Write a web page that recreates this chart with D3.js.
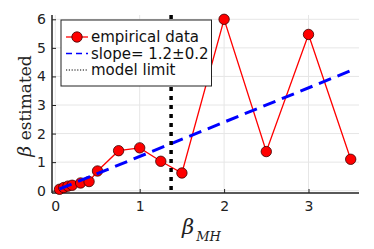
<!DOCTYPE html>
<html lang="en">
<head>
  <meta charset="UTF-8">
  <script src="https://d3js.org/d3.v7.min.js"></script>
  <style>
    body { margin: 0; padding: 0; background: #fff; }
    svg { display: block; font-family: "DejaVu Sans", sans-serif; }
  </style>
</head>
<body>
  <svg id="chart"></svg>
  <script>
    const betaMH = [0.05, 0.1, 0.15, 0.2, 0.3, 0.4, 0.5, 0.75, 1.0, 1.25, 1.5, 2.0, 2.5, 3.0, 3.5];
    const betaEst = [0.05, 0.11, 0.16, 0.19, 0.27, 0.32, 0.69, 1.4, 1.5, 1.03, 0.62, 6.0, 1.37, 5.47, 1.1];
    const slope = 1.2;
    const fitRange = [0.05, 3.5];
    const modelLimit = 1.372;
    const xTicks = [0, 1, 2, 3];
    const yTicks = [0, 1, 2, 3, 4, 5, 6];
    const legendLabels = ["empirical data", "slope= 1.2\u00b10.2", "model limit"];

    const width = 374, height = 249;
    const mLeft = 52, mRight = 359, mTop = 15, mBottom = 193;

    const svg = d3.select("#chart").attr("width", width).attr("height", height);

    const x = d3.scaleLinear().domain([0, 1]).range([55.3, 139.7]);
    const y = d3.scaleLinear().domain([0, 6]).range([190.7, 19.3]);

    // grid
    svg.append("g").selectAll("line").data(xTicks).join("line")
      .attr("x1", d => x(d)).attr("x2", d => x(d))
      .attr("y1", mTop).attr("y2", mBottom)
      .attr("stroke", "#e6e6e6").attr("stroke-width", 1);
    svg.append("g").selectAll("line").data(yTicks).join("line")
      .attr("x1", mLeft).attr("x2", mRight)
      .attr("y1", d => y(d)).attr("y2", d => y(d))
      .attr("stroke", "#e6e6e6").attr("stroke-width", 1);

    // axes
    const xAxis = svg.append("g").attr("transform", `translate(0,${mBottom})`)
      .call(d3.axisBottom(x).tickValues(xTicks).tickSize(-4).tickPadding(8).tickFormat(d3.format("d")));
    xAxis.select(".domain").attr("d", `M${mLeft},0H${mRight}`).attr("stroke", "#222").attr("stroke-width", 1.5);
    const yAxis = svg.append("g").attr("transform", `translate(${mLeft},0)`)
      .call(d3.axisLeft(y).tickValues(yTicks).tickSize(-4).tickPadding(6).tickFormat(d3.format("d")));
    yAxis.select(".domain").attr("d", `M0,${mTop}V${mBottom}`).attr("stroke", "#222").attr("stroke-width", 1.5);
    svg.selectAll(".tick text").attr("font-size", 14).attr("fill", "#222")
      .attr("font-family", "DejaVu Sans, sans-serif");
    svg.selectAll(".tick line").attr("stroke", "#222");

    // data
    const pts = betaMH.map((d, i) => [d, betaEst[i]]);
    svg.append("path")
      .attr("d", d3.line().x(d => x(d[0])).y(d => y(d[1]))(pts))
      .attr("fill", "none").attr("stroke", "#ff0000").attr("stroke-width", 1.3);
    svg.append("g").selectAll("circle").data(pts).join("circle")
      .attr("cx", d => x(d[0])).attr("cy", d => y(d[1])).attr("r", 5.2)
      .attr("fill", "#ff0000").attr("stroke", "#3a0000").attr("stroke-width", 0.8);

    // fit line
    svg.append("line")
      .attr("x1", x(fitRange[0])).attr("y1", y(slope * fitRange[0]))
      .attr("x2", x(fitRange[1])).attr("y2", y(slope * fitRange[1]))
      .attr("stroke", "#0000ff").attr("stroke-width", 3)
      .attr("stroke-dasharray", "13,7");

    // model limit
    svg.append("line")
      .attr("x1", x(modelLimit)).attr("x2", x(modelLimit))
      .attr("y1", mTop).attr("y2", mBottom)
      .attr("stroke", "#000").attr("stroke-width", 3.5)
      .attr("stroke-dasharray", "4,5");

    // legend
    const lg = svg.append("g");
    lg.append("rect").attr("x", 61).attr("y", 20).attr("width", 150.5).attr("height", 66)
      .attr("fill", "#fff").attr("stroke", "#222").attr("stroke-width", 1);
    const rowY = [37, 53.5, 70];
    lg.append("line").attr("x1", 66).attr("x2", 88).attr("y1", rowY[0]).attr("y2", rowY[0])
      .attr("stroke", "#ff0000").attr("stroke-width", 1.3);
    lg.append("circle").attr("cx", 77).attr("cy", rowY[0]).attr("r", 5.2)
      .attr("fill", "#ff0000").attr("stroke", "#3a0000").attr("stroke-width", 0.8);
    lg.append("line").attr("x1", 66).attr("x2", 88).attr("y1", rowY[1]).attr("y2", rowY[1])
      .attr("stroke", "#0000ff").attr("stroke-width", 1.6).attr("stroke-dasharray", "6,4");
    lg.append("line").attr("x1", 66).attr("x2", 88).attr("y1", rowY[2]).attr("y2", rowY[2])
      .attr("stroke", "#000").attr("stroke-width", 1).attr("stroke-dasharray", "1.2,1.6");
    lg.selectAll("text").data(legendLabels).join("text")
      .attr("x", 91).attr("y", (d, i) => rowY[i] + 5)
      .attr("font-size", 15).attr("fill", "#111").text(d => d);

    // axis labels
    const ylab = svg.append("text")
      .attr("transform", `translate(31,106) rotate(-90)`)
      .attr("text-anchor", "middle")
      .attr("font-family", "DejaVu Serif, serif").attr("font-size", 17).attr("fill", "#222");
    ylab.append("tspan").attr("font-style", "italic").attr("font-size", 19).text("\u03b2");
    ylab.append("tspan").text(" estimated");

    const xlab = svg.append("text")
      .attr("x", 182).attr("y", 234)
      .attr("font-family", "DejaVu Serif, serif").attr("fill", "#222");
    xlab.append("tspan").attr("font-style", "italic").attr("font-size", 21).text("\u03b2");
    xlab.append("tspan").attr("font-style", "italic").attr("font-size", 13).attr("dx", 2).attr("dy", 7).text("MH");
  </script>
</body>
</html>
